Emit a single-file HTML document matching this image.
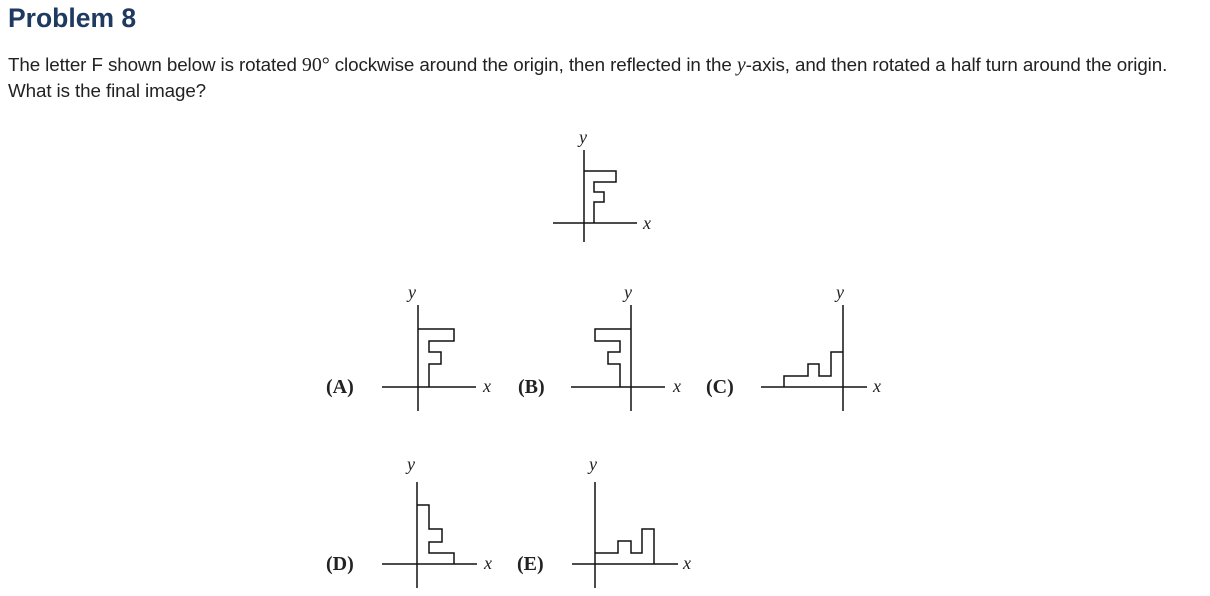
<!DOCTYPE html>
<html><head><meta charset="utf-8"><style>
html,body{margin:0;padding:0;background:#fff;width:1210px;height:596px;overflow:hidden}
.t{position:absolute;left:8px;top:3px;font:bold 26.5px "Liberation Sans",sans-serif;color:#1f3a60;margin:0}
.p{position:absolute;left:8px;top:52px;font:18.8px/26px "Liberation Sans",sans-serif;color:#222;white-space:nowrap;letter-spacing:-0.1px}
.m{font-family:"Liberation Serif",serif;font-size:20px}
svg{position:absolute;left:0;top:0}
</style></head><body>
<div class="t">Problem 8</div>
<div class="p">The letter F shown below is rotated <span class="m">90°</span> clockwise around the origin, then reflected in the <i class="m">y</i>-axis, and then rotated a half turn around the origin.<br>What is the final image?</div>
<svg width="1210" height="596" viewBox="0 0 1210 596">
<g stroke="#111" stroke-width="1.5" fill="none">
<line x1="584" y1="150" x2="584" y2="242"/><line x1="553" y1="223" x2="637" y2="223"/>
<polyline points="584,171 616,171 616,182 594,182 594,192 604,192 604,202 594,202 594,223"/>
<line x1="418" y1="305" x2="418" y2="411"/><line x1="382" y1="387" x2="476" y2="387"/>
<polyline points="418,329 454,329 454,341 429,341 429,352 441,352 441,364 429,364 429,387"/>
<line x1="631" y1="305" x2="631" y2="411"/><line x1="571" y1="387" x2="665" y2="387"/>
<polyline points="631,329 595,329 595,341 620,341 620,352 608,352 608,364 620,364 620,387"/>
<line x1="843" y1="305" x2="843" y2="411"/><line x1="761" y1="387" x2="867" y2="387"/>
<polyline points="784,387 784,376 808,376 808,364 819,364 819,376 831,376 831,352 843,352"/>
<line x1="417" y1="482" x2="417" y2="588"/><line x1="382" y1="564" x2="477" y2="564"/>
<polyline points="417,505 429,505 429,529 442,529 442,542 429,542 429,553 454,553 454,564"/>
<line x1="595" y1="482" x2="595" y2="588"/><line x1="572" y1="564" x2="678" y2="564"/>
<polyline points="595,553 618,553 618,541 631,541 631,553 642,553 642,529 654,529 654,564"/>
</g>
<g font-family="Liberation Serif,serif" font-style="italic" font-size="18" fill="#222">
<text x="579" y="143">y</text><text x="643" y="229">x</text>
<text x="408" y="298">y</text><text x="483" y="392">x</text>
<text x="624" y="298">y</text><text x="673" y="392">x</text>
<text x="836" y="298">y</text><text x="873" y="392">x</text>
<text x="407" y="470">y</text><text x="484" y="569">x</text>
<text x="589" y="470">y</text><text x="683" y="569">x</text>
</g>
<g font-family="Liberation Serif,serif" font-weight="bold" font-size="20" fill="#222">
<text x="326" y="393">(A)</text><text x="518" y="393">(B)</text><text x="706" y="393">(C)</text>
<text x="326" y="570">(D)</text><text x="517" y="570">(E)</text>
</g>
</svg>
</body></html>
